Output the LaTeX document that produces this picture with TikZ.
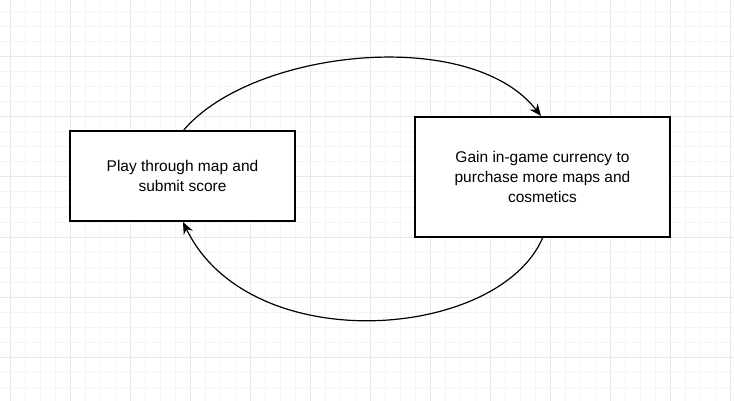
\documentclass[tikz,border=0pt]{standalone}
\usepackage{fontspec}
\setmainfont{Liberation Sans}
\usetikzlibrary{arrows.meta}
\begin{document}
\begin{tikzpicture}[x=1pt,y=-1pt,
  box/.style={draw,line width=1.2pt,fill=white,align=center,font=\fontsize{15.5}{20}\selectfont,inner sep=0pt},
  conn/.style={line width=1.2pt,-{Stealth[length=12pt,width=10pt]}}]
\useasboundingbox (0,0) rectangle (734,401);
\fill[white] (0,0) rectangle (734,401);
\foreach \x in {-5,10,...,734} \draw[gray!8,line width=1pt] (\x,0) -- (\x,401);
\foreach \y in {-3,12,...,401} \draw[gray!8,line width=1pt] (0,\y) -- (734,\y);
\foreach \x in {10,70,...,734} \draw[gray!18,line width=1pt] (\x,0) -- (\x,401);
\foreach \y in {57,117,...,401} \draw[gray!18,line width=1pt] (0,\y) -- (734,\y);
\node[box,minimum width=225pt,minimum height=90pt] (a) at (182.5,176) {Play through map and\\submit score};
\node[box,minimum width=255pt,minimum height=120pt] (b) at (542.5,177) {Gain in-game currency to\\purchase more maps and\\cosmetics};
\coordinate (a1) at (183,131);
\coordinate (b1) at (541,116);
\coordinate (b2) at (543,237);
\coordinate (a2) at (183,222);
\draw[conn] (a1) .. controls (250,50) and (470,25) .. (b1);
\draw[conn] (b2) .. controls (500,340) and (250,360) .. (a2);
\end{tikzpicture}
\end{document}
